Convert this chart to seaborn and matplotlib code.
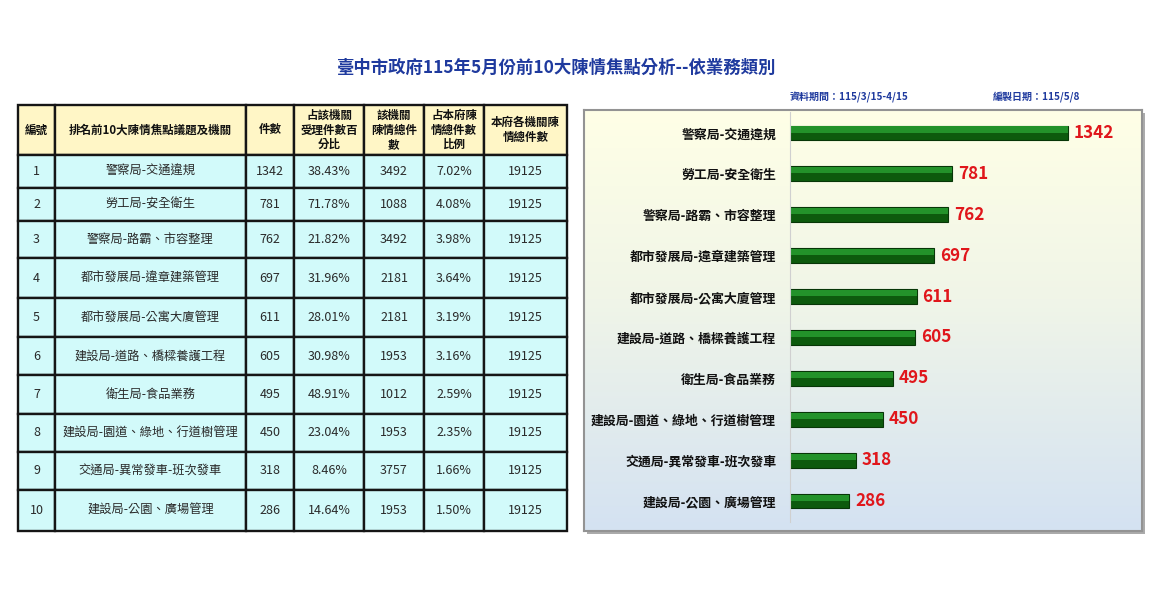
import numpy as np
import pandas as pd
import matplotlib
matplotlib.use("Agg")
import matplotlib.pyplot as plt
from matplotlib.patches import Rectangle
import seaborn as sns

# ---------------- data ----------------
ranks = [1, 2, 3, 4, 5, 6, 7, 8, 9, 10]
topics = [
    "警察局-交通違規",
    "勞工局-安全衛生",
    "警察局-路霸、市容整理",
    "都市發展局-違章建築管理",
    "都市發展局-公寓大廈管理",
    "建設局-道路、橋樑養護工程",
    "衛生局-食品業務",
    "建設局-園道、綠地、行道樹管理",
    "交通局-異常發車-班次發車",
    "建設局-公園、廣場管理",
]
counts = [1342, 781, 762, 697, 611, 605, 495, 450, 318, 286]
pct_agency = ["38.43%", "71.78%", "21.82%", "31.96%", "28.01%",
              "30.98%", "48.91%", "23.04%", "8.46%", "14.64%"]
agency_total = [3492, 1088, 3492, 2181, 2181, 1953, 1012, 1953, 3757, 1953]
pct_city = ["7.02%", "4.08%", "3.98%", "3.64%", "3.19%",
            "3.16%", "2.59%", "2.35%", "1.66%", "1.50%"]
city_total = [19125] * 10
headers = ["編號", "排名前10大陳情焦點議題及機關", "件數",
           "占該機關\n受理件數百\n分比", "該機關\n陳情總件\n數",
           "占本府陳\n情總件數\n比例", "本府各機關陳\n情總件數"]

title = "臺中市政府115年5月份前10大陳情焦點分析--依業務類別"
period_text = "資料期間：115/3/15-4/15"
made_text = "編製日期：115/5/8"

df = pd.DataFrame({"topic": topics, "count": counts})

# ---------------- style ----------------
sns.set_theme(style="white")
plt.rcParams["font.family"] = ["Noto Sans CJK TC", "DejaVu Sans"]

W, H = 1150, 600
fig = plt.figure(figsize=(11.5, 6), dpi=100)
fig.patch.set_facecolor("white")


def box(x0, y0, x1, y1):
    return [x0 / W, 1 - y1 / H, (x1 - x0) / W, (y1 - y0) / H]


# overlay axes in pixel coordinates (table + texts)
ov = fig.add_axes([0, 0, 1, 1])
ov.set_xlim(0, W)
ov.set_ylim(H, 0)
ov.axis("off")

ov.text(556, 68, title, ha="center", va="center", fontsize=12.5,
        fontweight="bold", color="#1F3A9E")
ov.text(790, 97, period_text, ha="left", va="center", fontsize=7.2,
        fontweight="bold", color="#1F3A9E")
ov.text(993, 97, made_text, ha="left", va="center", fontsize=7.2,
        fontweight="bold", color="#1F3A9E")

# ---------------- table ----------------
col_x = [18, 55, 246, 294, 364, 424, 484, 567]
row_y = [105, 155, 188, 221, 258, 298, 337, 375, 414, 452, 490, 531]

for j in range(7):
    ov.add_patch(Rectangle((col_x[j], row_y[0]), col_x[j + 1] - col_x[j],
                           row_y[1] - row_y[0], facecolor="#FFF6C6",
                           edgecolor="#151515", lw=1.7, zorder=1))
    ov.text((col_x[j] + col_x[j + 1]) / 2, (row_y[0] + row_y[1]) / 2,
            headers[j], ha="center", va="center", fontsize=8.3,
            fontweight="bold", color="#111111", linespacing=1.15, zorder=3)

for i in range(10):
    vals = [str(ranks[i]), topics[i], str(counts[i]), pct_agency[i],
            str(agency_total[i]), pct_city[i], str(city_total[i])]
    y0, y1 = row_y[i + 1], row_y[i + 2]
    for j in range(7):
        ov.add_patch(Rectangle((col_x[j], y0), col_x[j + 1] - col_x[j],
                               y1 - y0, facecolor="#D2FAFA",
                               edgecolor="#151515", lw=1.7, zorder=1))
        ov.text((col_x[j] + col_x[j + 1]) / 2, (y0 + y1) / 2, vals[j],
                ha="center", va="center", fontsize=9 if j != 1 else 8.8,
                color="#2a2a2a", zorder=3)

# ---------------- chart panel ----------------
# shadow
ov.add_patch(Rectangle((587, 113), 1142 - 584, 531 - 110,
                       facecolor="#ababab", edgecolor="none", zorder=0))
pan = fig.add_axes(box(584, 110, 1142, 531))
grad = np.linspace(0, 1, 256).reshape(-1, 1)
top_c = np.array([255, 255, 230]) / 255
mid_c = np.array([240, 245, 232]) / 255
bot_c = np.array([212, 226, 242]) / 255
g = np.where(grad < 0.45,
             top_c + (mid_c - top_c) * (grad / 0.45),
             mid_c + (bot_c - mid_c) * ((grad - 0.45) / 0.55))
pan.imshow(g.reshape(256, 1, 3), aspect="auto", extent=[0, 1, 0, 1])
pan.set_xlim(0, 1)
pan.set_ylim(0, 1)
pan.set_xticks([])
pan.set_yticks([])
for s in pan.spines.values():
    s.set_color("#939393")
    s.set_linewidth(1.5)

ax = fig.add_axes(box(790, 112.5, 1132, 521.5))
ax.set_facecolor("none")
sns.barplot(data=df, x="count", y="topic", color="#0D5A0D",
            edgecolor="#073607", linewidth=0.8, width=0.36, ax=ax,
            saturation=1)
idx = np.arange(len(counts))
ax.barh(idx - 0.085, counts, height=0.15, color="#23922A", linewidth=0)

ax.set_xlim(0, 1650)
ax.set_ylim(len(counts) - 0.5, -0.5)
ax.set_xlabel("")
ax.set_ylabel("")
ax.set_xticks([])
ax.tick_params(axis="y", length=0, pad=10)
for lbl in ax.get_yticklabels():
    lbl.set_fontsize(9.3)
    lbl.set_fontweight("bold")
    lbl.set_color("#111111")
for s in ["top", "right", "bottom"]:
    ax.spines[s].set_visible(False)
ax.spines["left"].set_color("#d0d0d0")
ax.spines["left"].set_linewidth(0.8)

for i, v in enumerate(counts):
    ax.text(v + 28, i, str(v), ha="left", va="center", fontsize=12.3,
            fontweight="bold", color="#E0161B")

fig.savefig("out.png", dpi=100, facecolor="white")
